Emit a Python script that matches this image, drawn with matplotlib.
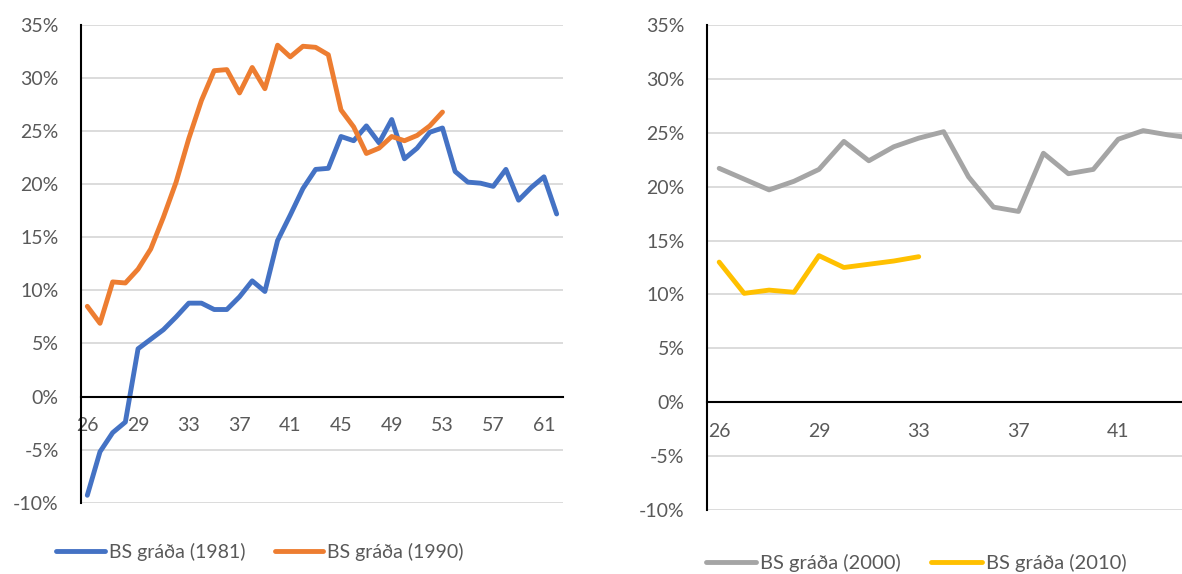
#!/usr/bin/env python3
# -*- coding: utf-8 -*-

import numpy as np
import matplotlib
matplotlib.use("Agg")
import matplotlib.pyplot as plt

plt.rcParams["font.family"] = ["Lato", "DejaVu Sans"]

# x-axis categories (label shown on every 4th category)
AGE_LABELS = ["26", "26", "27", "28", "29", "30", "31", "32", "33", "34",
              "35", "36", "37", "38", "39", "40", "41", "42", "43", "44",
              "45", "46", "47", "48", "49", "50", "51", "52", "53", "54",
              "55", "56", "57", "58", "59", "60", "61", "62"]

# vinstri mynd
BS_1981 = [-9.3, -5.2, -3.4, -2.4, 4.5, 5.4, 6.3, 7.5, 8.8, 8.8,
           8.2, 8.2, 9.4, 10.9, 9.9, 14.7, 17.1, 19.6, 21.4, 21.5,
           24.5, 24.1, 25.5, 23.9, 26.1, 22.4, 23.4, 24.9, 25.3, 21.2,
           20.2, 20.1, 19.8, 21.4, 18.5, 19.7, 20.7, 17.2]
BS_1990 = [8.5, 6.9, 10.8, 10.7, 12.0, 13.9, 16.9, 20.2, 24.3, 27.9,
           30.7, 30.8, 28.6, 31.0, 29.0, 33.1, 32.0, 33.0, 32.9, 32.2,
           27.0, 25.4, 22.9, 23.4, 24.5, 24.1, 24.6, 25.5, 26.8]

# haegri mynd (skorin af til haegri)
BS_2000 = [21.7, 20.7, 19.7, 20.5, 21.6, 24.2, 22.4, 23.7, 24.5, 25.1,
           20.9, 18.1, 17.7, 23.1, 21.2, 21.6, 24.4, 25.2, 24.8, 24.5]
BS_2010 = [13.0, 10.1, 10.4, 10.2, 13.6, 12.5, 12.8, 13.1, 13.5]

Y_TICKS = [-10, -5, 0, 5, 10, 15, 20, 25, 30, 35]

TEXT_COLOR = "#595959"
GRID_COLOR = "#d9d9d9"
LW = 3.5
FS = 14


def style_axis(ax, last_label):
    n = len(AGE_LABELS)
    ax.set_xlim(-0.5, n - 0.5)
    ax.set_ylim(-10, 35)
    ax.set_yticks(Y_TICKS)
    ax.set_yticklabels([f"{v}%" for v in Y_TICKS])
    # only labels that are inside the picture
    idx = np.arange(0, last_label + 1, 4)
    ax.set_xticks(idx)
    ax.set_xticklabels([AGE_LABELS[i] for i in idx])
    for v in Y_TICKS:
        if v != 0:
            ax.axhline(v, color=GRID_COLOR, lw=1.3, zorder=0)
    ax.spines["top"].set_visible(False)
    ax.spines["right"].set_visible(False)
    ax.spines["bottom"].set_position(("data", 0))
    ax.spines["bottom"].set_linewidth(1.5)
    ax.spines["left"].set_linewidth(1.5)
    ax.tick_params(axis="both", length=0, labelsize=FS, labelcolor=TEXT_COLOR)
    ax.tick_params(axis="x", pad=15)
    ax.tick_params(axis="y", pad=16)


def add_line(ax, values, color, label):
    line, = ax.plot(np.arange(len(values)), values, color=color, lw=LW,
                    solid_joinstyle="round", solid_capstyle="round", label=label)
    return line


fig = plt.figure(figsize=(11.82, 5.74), dpi=100)

ax1 = fig.add_axes([0.0685, 0.1242, 0.4078, 0.8322])
h1 = [add_line(ax1, BS_1981, "#4472C4", "BS gráða (1981)"),
      add_line(ax1, BS_1990, "#ED7D31", "BS gráða (1990)")]
style_axis(ax1, 36)
fig.legend(handles=h1, loc="center", bbox_to_anchor=(0.22, 1 - 552 / 574),
           ncol=2, frameon=False, fontsize=FS, labelcolor=TEXT_COLOR,
           handlelength=2.5, handletextpad=0.2, columnspacing=1.5)

ax2 = fig.add_axes([0.5979, 0.1115, 0.8018, 0.845])
h2 = [add_line(ax2, BS_2000, "#A5A5A5", "BS gráða (2000)"),
      add_line(ax2, BS_2010, "#FFC000", "BS gráða (2010)")]
style_axis(ax2, 16)
fig.legend(handles=h2, loc="center", bbox_to_anchor=(916 / 1182, 1 - 563 / 574),
           ncol=2, frameon=False, fontsize=FS + 0.5, labelcolor=TEXT_COLOR,
           handlelength=2.5, handletextpad=0.2, columnspacing=1.5)

fig.savefig("out.png", dpi=100)
